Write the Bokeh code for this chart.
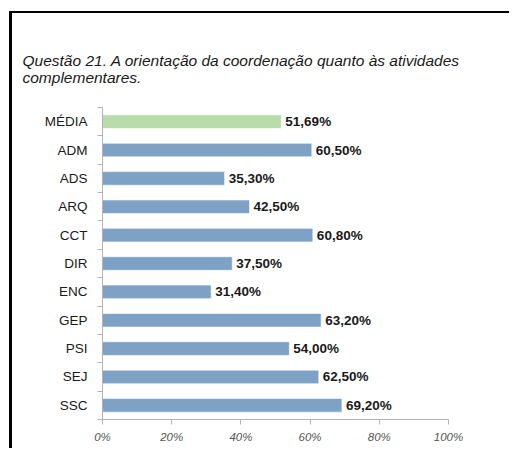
from bokeh.plotting import figure
from bokeh.models import ColumnDataSource, Range1d, FixedTicker, Title
from bokeh.core.properties import value
from bokeh.embed import file_html
from bokeh.resources import INLINE

title_text = "Questão 21. A orientação da coordenação quanto às atividades\ncomplementares."
categories = ["MÉDIA", "ADM", "ADS", "ARQ", "CCT", "DIR", "ENC", "GEP", "PSI", "SEJ", "SSC"]
values = [51.69, 60.50, 35.30, 42.50, 60.80, 37.50, 31.40, 63.20, 54.00, 62.50, 69.20]
value_labels = ["51,69%", "60,50%", "35,30%", "42,50%", "60,80%", "37,50%", "31,40%",
                "63,20%", "54,00%", "62,50%", "69,20%"]
x_ticks = [0, 20, 40, 60, 80, 100]
x_tick_labels = ["0%", "20%", "40%", "60%", "80%", "100%"]

n = len(categories)
ypos = [n - 1 - i for i in range(n)]
colors = ["#b9dcab"] + ["#7ea2c6"] * (n - 1)

src = ColumnDataSource(dict(y=ypos, v=values, lbl=value_labels, c=colors))

p = figure(width=500, height=437, output_backend="svg", toolbar_location=None,
           x_range=Range1d(0, 100), y_range=Range1d(-0.5, n - 0.5),
           min_border_left=90, min_border_right=64, min_border_top=94, min_border_bottom=31)
p.styles = {"border-top": "2px solid black", "border-left": "3px solid black",
            "margin-left": "9px", "margin-top": "11px"}
p.background_fill_color = "white"
p.border_fill_color = "white"
p.outline_line_color = None
p.xgrid.visible = False
p.ygrid.visible = False

t = Title(text=title_text, align="left", offset=-80, standoff=44,
          text_font="Liberation Sans", text_font_style="italic",
          text_font_size="15.5px", text_color="#1a1a1a")
p.title = t

p.hbar(y="y", left=0, right="v", height=0.48, fill_color="c", line_color="white",
       line_alpha=0.6, line_width=1, source=src)
p.text(x="v", y="y", text="lbl", source=src, x_offset=4, text_baseline="middle",
       text_align="left", text_font=value("Liberation Sans"), text_font_style="bold",
       text_font_size=value("13.5px"), text_color="#1a1a1a")

# y axis
ya = p.yaxis[0]
ya.ticker = FixedTicker(ticks=ypos, minor_ticks=[k - 0.5 for k in range(n + 1)])
ya.major_label_overrides = {y: c for y, c in zip(ypos, categories)}
ya.major_tick_line_color = None
ya.major_tick_in = 0
ya.major_tick_out = 0
ya.minor_tick_in = 0
ya.minor_tick_out = 5
ya.minor_tick_line_color = "#b3b3b3"
ya.axis_line_color = "#b3b3b3"
ya.major_label_standoff = 10
ya.major_label_text_font = "Liberation Sans"
ya.major_label_text_font_size = "13.5px"
ya.major_label_text_color = "#1a1a1a"

# x axis
xa = p.xaxis[0]
xa.ticker = FixedTicker(ticks=x_ticks)
xa.major_label_overrides = {t: l for t, l in zip(x_ticks, x_tick_labels)}
xa.minor_tick_line_color = None
xa.major_tick_in = 0
xa.major_tick_out = 5
xa.major_tick_line_color = "#b3b3b3"
xa.axis_line_color = "#b3b3b3"
xa.major_label_standoff = 6
xa.major_label_text_font = "Liberation Sans"
xa.major_label_text_font_style = "italic"
xa.major_label_text_font_size = "11.5px"
xa.major_label_text_color = "#555555"

open("out.html", "w").write(file_html(p, INLINE))
